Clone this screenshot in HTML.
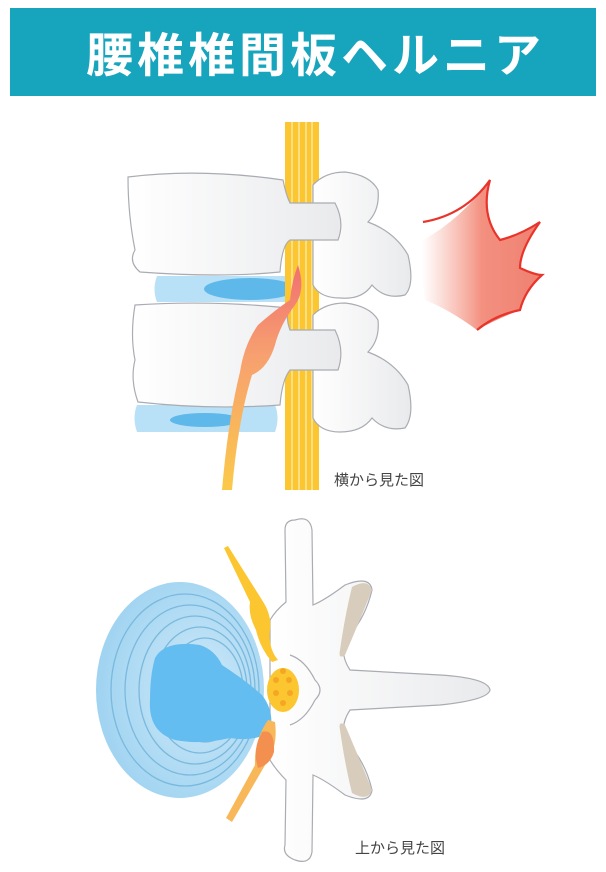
<!DOCTYPE html>
<html><head><meta charset="utf-8"><style>
html,body{margin:0;padding:0;background:#fff;width:606px;height:872px;overflow:hidden}
svg{display:block}
</style></head><body>
<svg width="606" height="872" viewBox="0 0 606 872" xmlns="http://www.w3.org/2000/svg">
<defs>
<linearGradient id="pain" x1="0" y1="0" x2="1" y2="0">
<stop offset="0" stop-color="#f6a090" stop-opacity="0"/>
<stop offset="0.5" stop-color="#f39080"/>
<stop offset="1" stop-color="#ef8070"/>
</linearGradient>
<linearGradient id="bone" x1="0" y1="0" x2="1" y2="0">
<stop offset="0" stop-color="#ffffff"/>
<stop offset="1" stop-color="#e9eaec"/>
</linearGradient>
<radialGradient id="disc" cx="0.6" cy="0.5" r="0.6">
<stop offset="0" stop-color="#cfe9f8"/>
<stop offset="1" stop-color="#9fd3f1"/>
</radialGradient>
<linearGradient id="nerveRed" x1="0" y1="1" x2="0" y2="0">
<stop offset="0" stop-color="#fbc94a"/>
<stop offset="0.6" stop-color="#f7a070"/>
<stop offset="1" stop-color="#f07070"/>
</linearGradient>
</defs>
<rect x="10" y="8" width="586" height="88" fill="#17a5bd"/>
<text x="86" y="72" font-family="'Liberation Sans','Noto Sans CJK JP',sans-serif" font-size="47" font-weight="bold" fill="#fff" letter-spacing="4">腰椎椎間板ヘルニア</text>

<!-- top figure -->
<path d="M157 276 L300 276 Q305 289 300 302 L157 302 Q152 289 157 276Z" fill="#b8e0f7"/>
<ellipse cx="250" cy="289" rx="46" ry="11" fill="#5fb8ea"/>
<path d="M137 405 L275 405 Q280 418 275 432 L137 432 Q132 418 137 405Z" fill="#b8e0f7"/>
<ellipse cx="205" cy="420" rx="35" ry="7" fill="#5fb8ea"/>
<!-- spinal cord -->
<rect x="285" y="122" width="34" height="368" fill="#fbc630"/>
<g stroke="#fde59a" stroke-width="1.6">
<line x1="292" y1="122" x2="292" y2="490"/><line x1="299" y1="122" x2="299" y2="490"/>
<line x1="306" y1="122" x2="306" y2="490"/><line x1="312" y1="122" x2="312" y2="490"/>
</g>
<!-- posterior bone -->
<path d="M313 185 Q325 172 345 172 Q370 175 378 190 Q380 210 368 222 Q395 232 408 255 Q415 285 405 295 Q385 300 372 285 Q362 300 340 298 Q320 298 313 285Z" fill="url(#bone)" stroke="#a9acb2" stroke-width="1.2"/>
<path d="M313 315 Q325 303 345 303 Q370 306 378 320 Q380 340 368 352 Q395 362 408 385 Q415 415 405 428 Q385 432 372 418 Q362 432 340 432 Q320 432 313 418Z" fill="url(#bone)" stroke="#a9acb2" stroke-width="1.2"/>
<!-- bodies + pedicles -->
<path d="M128 177 Q200 168 283 180 Q286 195 290 203 L335 203 Q345 222 338 240 L290 240 Q282 245 280 272 Q220 278 140 272 Q128 262 135 250 Q128 215 128 177Z" fill="url(#bone)" stroke="#a9acb2" stroke-width="1.2"/>
<path d="M135 305 Q210 300 288 308 Q286 320 290 330 L335 330 Q345 350 338 370 L290 370 Q282 380 280 405 Q210 410 138 402 Q130 380 135 360 Q130 335 135 305Z" fill="url(#bone)" stroke="#a9acb2" stroke-width="1.2"/>
<!-- nerve root -->
<path d="M298 265 Q306 290 295 305 Q280 325 275 345 Q268 368 252 375 Q238 420 232 490 L222 490 Q228 420 240 372 Q244 345 258 325 Q275 310 290 300 Q292 280 298 265Z" fill="url(#nerveRed)"/>
<!-- pain -->
<path d="M423 240 Q460 220 490 180 Q480 215 500 240 Q520 235 540 222 Q520 250 520 268 Q535 275 542 275 Q525 290 520 310 Q495 320 477 330 Q450 310 425 300 Q420 270 423 240Z" fill="url(#pain)"/>
<path d="M423 222 Q465 215 490 180 Q480 215 500 240 Q520 235 540 222 Q520 250 520 268 Q535 275 542 275 Q525 290 520 310 Q495 315 477 330" fill="none" stroke="#e8342a" stroke-width="2.2"/>
<text x="334" y="485" font-family="'Liberation Sans','Noto Sans CJK JP',sans-serif" font-size="15" fill="#444">横から見た図</text>

<!-- bottom figure -->
<path d="M295 520 Q310 515 312 530 L313 605 Q325 600 345 585 Q370 575 372 590 Q365 620 345 640 Q340 655 350 670 L440 675 Q488 678 490 690 Q488 700 440 705 L350 710 Q340 725 345 740 Q365 760 372 790 Q370 805 345 795 Q325 780 313 775 L312 852 Q310 865 295 860 Q282 855 285 845 L286 780 Q276 770 270 760 L270 620 Q276 610 286 602 L285 530 Q285 520 295 520Z" fill="url(#bone)" stroke="#a9acb2" stroke-width="1.2"/>
<path d="M352 587 Q368 578 372 590 Q360 620 345 655 Q338 660 340 650 Q345 615 352 587Z" fill="#d8cdbc"/>
<path d="M345 725 Q338 720 340 730 Q345 765 352 793 Q368 802 372 790 Q360 760 345 725Z" fill="#d8cdbc"/>
<path d="M290 655 Q305 660 315 680 Q325 690 315 700 Q305 720 290 725" fill="none" stroke="#a9acb2" stroke-width="1.2"/>
<!-- disc -->
<ellipse cx="180" cy="690" rx="84" ry="108" fill="url(#disc)"/>
<g fill="none" stroke="#7ab9dd" stroke-width="1.3">
<ellipse cx="185" cy="690" rx="74" ry="96"/>
<ellipse cx="190" cy="690" rx="65" ry="85"/>
<ellipse cx="195" cy="690" rx="56" ry="74"/>
<ellipse cx="200" cy="690" rx="47" ry="63"/>
<ellipse cx="205" cy="690" rx="38" ry="52"/>
</g>
<path d="M155 658 Q165 640 200 645 Q215 650 222 665 Q245 680 262 695 Q275 712 270 732 Q255 742 230 738 Q200 745 175 740 Q148 732 150 700 Q150 675 155 658Z" fill="#64bdf0"/>
<!-- nerves -->
<path d="M224 548 L228 546 L262 600 Q272 615 270 630 Q268 648 278 660 L272 662 Q260 648 256 630 Q248 615 250 602Z" fill="#fbc630"/>
<ellipse cx="283" cy="690" rx="16" ry="22" fill="#fbc630"/>
<g fill="#f5a623"><circle cx="276" cy="680" r="3"/><circle cx="289" cy="680" r="3"/><circle cx="276" cy="693" r="3"/><circle cx="290" cy="693" r="3"/><circle cx="283" cy="703" r="3"/><circle cx="283" cy="671" r="3"/></g>
<path d="M268 720 L275 722 Q278 745 268 760 L232 822 L226 818 L255 765 Q254 740 268 720Z" fill="#f8b85a"/>
<path d="M262 732 Q275 728 274 752 Q270 765 258 768 Q252 750 262 732Z" fill="#f39050"/>
<text x="355" y="853" font-family="'Liberation Sans','Noto Sans CJK JP',sans-serif" font-size="15" fill="#444">上から見た図</text>
</svg>
</body></html>
